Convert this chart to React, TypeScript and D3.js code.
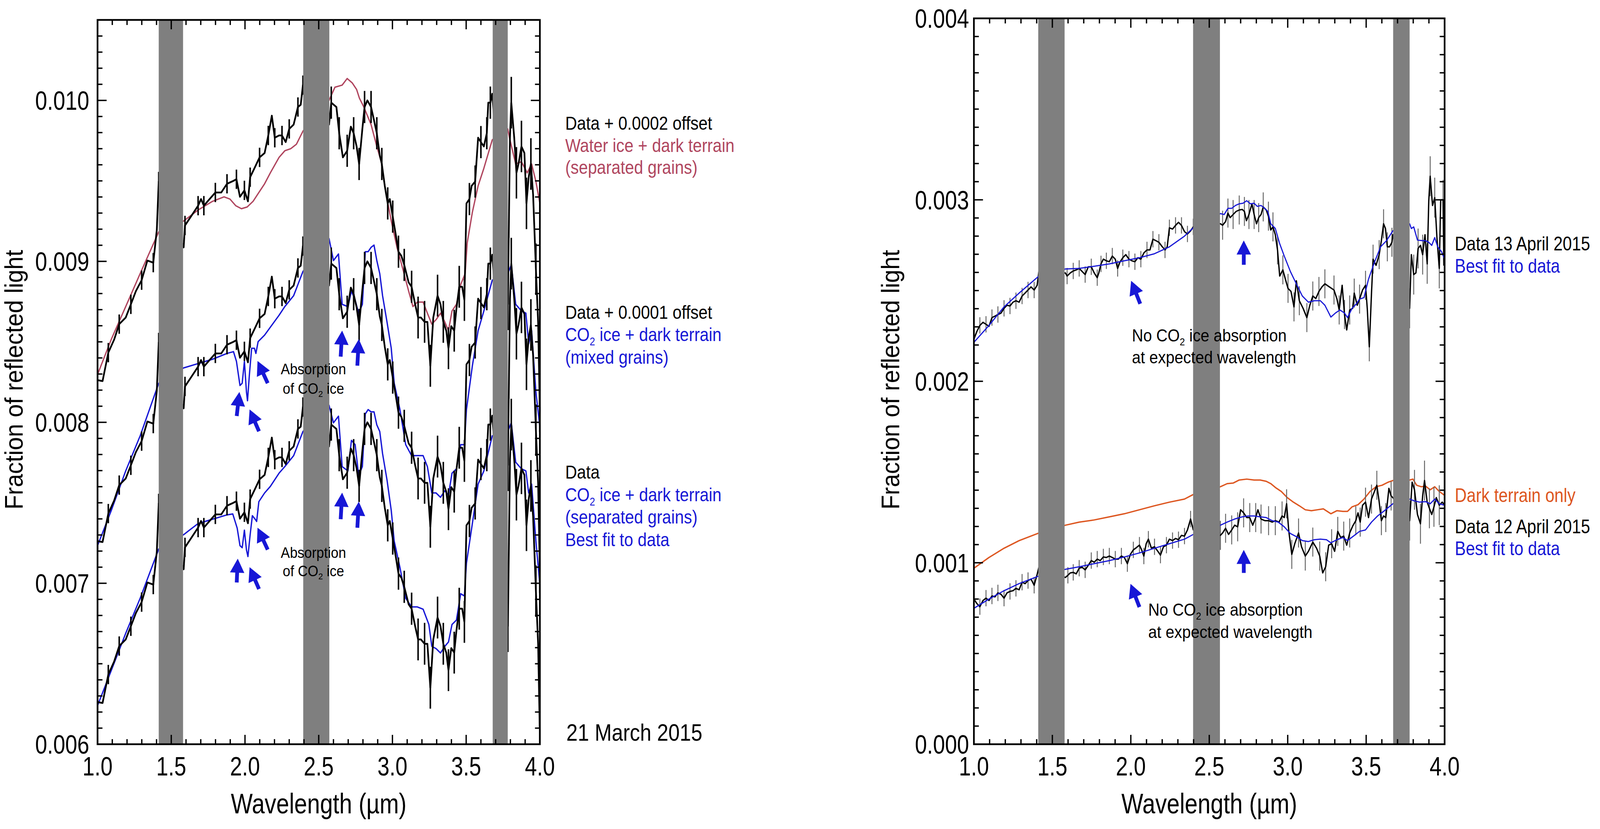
import React from "react";
import * as d3 from "d3";

type Pt = [number, number];

const FONT = "'Liberation Sans', Arial, sans-serif";

// wavelength ranges masked by grey bands (µm)
const leftBands: Pt[] = [[1.415, 1.58], [2.395, 2.572], [3.68, 3.782]];
const rightBands: Pt[] = [[1.41, 1.578], [2.397, 2.568], [3.672, 3.777]];

const xTicks = [1.0, 1.5, 2.0, 2.5, 3.0, 3.5, 4.0];
const leftYTicks = [0.006, 0.007, 0.008, 0.009, 0.01];
const rightYTicks = [0.0, 0.001, 0.002, 0.003, 0.004];

// 21 March 2015 spectrum (bottom curve), plotted again with offsets
const march21Data: Pt[] = [
  [1.0, 0.006262], [1.034, 0.006256], [1.073, 0.006433], [1.113, 0.006515], [1.147, 0.00661], [1.191, 0.006651],
  [1.226, 0.006733], [1.26, 0.006815], [1.299, 0.006883], [1.338, 0.007005], [1.378, 0.006992], [1.402, 0.007196], [1.415, 0.007496],
  [1.584, 0.007087], [1.593, 0.007223], [1.633, 0.007278], [1.682, 0.007346], [1.702, 0.007387], [1.721, 0.007346],
  [1.76, 0.007387], [1.799, 0.007428], [1.839, 0.007428], [1.878, 0.007482], [1.912, 0.007496], [1.942, 0.00751],
  [1.966, 0.007401], [1.996, 0.007441], [2.02, 0.007373], [2.035, 0.007523], [2.064, 0.007578], [2.099, 0.007646],
  [2.133, 0.007673], [2.158, 0.007782], [2.182, 0.007905], [2.202, 0.007768], [2.231, 0.007782], [2.251, 0.007782],
  [2.276, 0.007741], [2.3, 0.007823], [2.33, 0.00785], [2.359, 0.007959], [2.378, 0.007973], [2.393, 0.008095],
  [2.57, 0.00785], [2.585, 0.007986], [2.62, 0.007959], [2.639, 0.007796], [2.664, 0.007646], [2.693, 0.007687],
  [2.718, 0.007837], [2.737, 0.007796], [2.757, 0.007714], [2.774, 0.007605], [2.796, 0.007823], [2.811, 0.007959],
  [2.83, 0.008], [2.855, 0.007959], [2.875, 0.007877], [2.894, 0.007796], [2.914, 0.007659], [2.928, 0.007605],
  [2.948, 0.007469], [2.968, 0.00736], [2.982, 0.007387], [3.002, 0.007278], [3.022, 0.007169], [3.041, 0.00706],
  [3.061, 0.007033], [3.08, 0.006978], [3.11, 0.006869], [3.13, 0.006842], [3.154, 0.006733], [3.174, 0.006651],
  [3.193, 0.006651], [3.218, 0.006624], [3.237, 0.006624], [3.257, 0.006351], [3.277, 0.006651], [3.306, 0.006787],
  [3.326, 0.006733], [3.345, 0.006624], [3.365, 0.006569], [3.38, 0.00646], [3.399, 0.006597], [3.419, 0.006569],
  [3.434, 0.006706], [3.453, 0.006842], [3.473, 0.006842], [3.488, 0.00676], [3.502, 0.00736], [3.522, 0.007387],
  [3.537, 0.007469], [3.561, 0.007496], [3.581, 0.007768], [3.6, 0.007741], [3.62, 0.007714], [3.64, 0.007796],
  [3.65, 0.007986], [3.664, 0.007986], [3.677, 0.008041],
  [3.783, 0.006733], [3.797, 0.007768], [3.806, 0.007986], [3.826, 0.007768], [3.841, 0.00755], [3.855, 0.007605],
  [3.875, 0.007714], [3.895, 0.007673], [3.909, 0.00736], [3.924, 0.007523], [3.939, 0.007605], [3.954, 0.007414],
  [3.973, 0.006951], [3.988, 0.006624], [3.999, 0.0061],
];
const march21Offsets = [0, 0.001, 0.002];
// error size per wavelength range [from, err]
const march21Err: Pt[] = [[1.0, 0.00006], [2.5, 0.0001], [3.15, 0.00013], [3.5, 0.0001], [3.75, 0.00016]];

const waterIceFit: Pt[] = [
  [1.0, 0.008297], [1.093, 0.008515], [1.191, 0.008719], [1.289, 0.008924], [1.415, 0.009183],
  [1.584, 0.009251], [1.682, 0.009319], [1.78, 0.009373], [1.858, 0.009401], [1.898, 0.009387], [1.937, 0.009346],
  [1.976, 0.009327], [2.015, 0.009338], [2.055, 0.009373], [2.094, 0.009428], [2.133, 0.009482], [2.172, 0.00955],
  [2.231, 0.009646], [2.27, 0.009687], [2.31, 0.0097], [2.349, 0.009728], [2.393, 0.009809],
  [2.57, 0.01], [2.61, 0.010082], [2.659, 0.010095], [2.693, 0.010136], [2.727, 0.010109], [2.757, 0.010068],
  [2.776, 0.010014], [2.806, 0.009959], [2.855, 0.00985], [2.894, 0.009714], [2.924, 0.009619], [2.953, 0.009441],
  [2.992, 0.009251], [3.031, 0.009087], [3.071, 0.008951], [3.11, 0.008815], [3.139, 0.008719], [3.169, 0.008747],
  [3.208, 0.008747], [3.237, 0.008678], [3.267, 0.00861], [3.296, 0.008638], [3.326, 0.008678], [3.355, 0.008624],
  [3.38, 0.008569], [3.404, 0.008692], [3.434, 0.008733], [3.463, 0.008856], [3.493, 0.008924], [3.507, 0.009114],
  [3.542, 0.009305], [3.581, 0.009469], [3.62, 0.009578], [3.677, 0.009755],
  [3.782, 0.009823], [3.797, 0.009755], [3.836, 0.009605], [3.875, 0.009619], [3.914, 0.00955], [3.944, 0.009605],
  [3.973, 0.009496], [4.0, 0.00936],
];

const co2MixedFit: Pt[] = [
  [1.0, 0.007234], [1.093, 0.007452], [1.191, 0.007698], [1.289, 0.007916], [1.415, 0.008243],
  [1.584, 0.008338], [1.682, 0.008365], [1.78, 0.008392], [1.878, 0.008428], [1.922, 0.008439], [1.942, 0.008379],
  [1.966, 0.008229], [1.981, 0.008243], [1.996, 0.008379], [2.01, 0.008188], [2.017, 0.008134], [2.03, 0.008297],
  [2.045, 0.00846], [2.064, 0.00846], [2.074, 0.008428], [2.089, 0.008501], [2.133, 0.008542], [2.172, 0.008591],
  [2.231, 0.008665], [2.27, 0.008719], [2.33, 0.008787], [2.393, 0.008937],
  [2.57, 0.009142], [2.6, 0.009005], [2.634, 0.009046], [2.659, 0.008733], [2.698, 0.008719], [2.722, 0.008815],
  [2.747, 0.00876], [2.771, 0.008678], [2.796, 0.008733], [2.816, 0.00906], [2.835, 0.00906], [2.855, 0.009087],
  [2.875, 0.009101], [2.894, 0.009005], [2.914, 0.008924], [2.933, 0.008787], [2.963, 0.008624], [2.992, 0.00846],
  [3.012, 0.008243], [3.051, 0.008079], [3.09, 0.007861], [3.13, 0.007793], [3.169, 0.007793], [3.208, 0.007793],
  [3.237, 0.007725], [3.267, 0.007561], [3.296, 0.007561], [3.326, 0.007534], [3.355, 0.007575], [3.38, 0.007548],
  [3.404, 0.007684], [3.434, 0.007711], [3.463, 0.007861], [3.488, 0.007861], [3.502, 0.008079], [3.542, 0.008351],
  [3.581, 0.008569], [3.62, 0.008692], [3.677, 0.008883],
  [3.782, 0.008924], [3.806, 0.008978], [3.836, 0.008733], [3.875, 0.008692], [3.905, 0.008678], [3.924, 0.008488],
  [3.944, 0.008569], [3.973, 0.008188], [4.0, 0.00797],
];

const co2SeparatedFit: Pt[] = [
  [1.0, 0.00624], [1.093, 0.006458], [1.191, 0.006689], [1.289, 0.006907], [1.415, 0.007213],
  [1.584, 0.007302], [1.623, 0.00733], [1.682, 0.007371], [1.78, 0.007398], [1.878, 0.007425], [1.917, 0.007431],
  [1.947, 0.007343], [1.966, 0.007234], [1.981, 0.007221], [1.996, 0.00733], [2.01, 0.007207], [2.02, 0.007166],
  [2.035, 0.007302], [2.05, 0.00742], [2.069, 0.007398], [2.079, 0.007384], [2.094, 0.007507], [2.133, 0.007561],
  [2.172, 0.007602], [2.231, 0.007684], [2.27, 0.007725], [2.33, 0.007793], [2.393, 0.007943],
  [2.57, 0.008106], [2.6, 0.007997], [2.634, 0.008038], [2.659, 0.007725], [2.698, 0.007698], [2.722, 0.007888],
  [2.747, 0.007861], [2.771, 0.00767], [2.796, 0.007725], [2.816, 0.008052], [2.835, 0.008079], [2.855, 0.008065],
  [2.875, 0.008065], [2.894, 0.007984], [2.914, 0.007943], [2.933, 0.007806], [2.963, 0.007643], [2.992, 0.007452],
  [3.012, 0.007262], [3.051, 0.007098], [3.09, 0.006907], [3.13, 0.006853], [3.169, 0.006853], [3.208, 0.006839],
  [3.247, 0.006744], [3.267, 0.006608], [3.296, 0.006594], [3.326, 0.006567], [3.355, 0.006608], [3.38, 0.006635],
  [3.404, 0.006744], [3.434, 0.006771], [3.463, 0.006935], [3.488, 0.006921], [3.502, 0.007125], [3.542, 0.007371],
  [3.581, 0.007616], [3.62, 0.007698], [3.677, 0.007916],
  [3.782, 0.007943], [3.806, 0.007997], [3.836, 0.007752], [3.875, 0.007711], [3.905, 0.007698], [3.924, 0.007561],
  [3.944, 0.007616], [3.973, 0.007262], [4.0, 0.00699],
];

const april13Data: Pt[] = [
  [1.0, 0.002232], [1.019, 0.002275], [1.038, 0.002308], [1.058, 0.002325], [1.077, 0.002314], [1.096, 0.002303],
  [1.115, 0.002351], [1.134, 0.002359], [1.153, 0.002368], [1.173, 0.002376], [1.192, 0.002402], [1.211, 0.002419],
  [1.23, 0.002415], [1.249, 0.002436], [1.268, 0.002444], [1.288, 0.002436], [1.307, 0.00247], [1.326, 0.002486],
  [1.345, 0.002503], [1.364, 0.00252], [1.384, 0.002503], [1.403, 0.002529], [1.414, 0.002605],
  [1.583, 0.002597], [1.594, 0.00258], [1.614, 0.002597], [1.633, 0.002608], [1.652, 0.002614], [1.671, 0.002622],
  [1.69, 0.002605], [1.709, 0.002588], [1.729, 0.002631], [1.748, 0.002631], [1.767, 0.002597], [1.786, 0.002571],
  [1.796, 0.002597], [1.81, 0.002647], [1.825, 0.002673], [1.844, 0.002664], [1.863, 0.002659], [1.882, 0.00269],
  [1.901, 0.002673], [1.916, 0.002622], [1.93, 0.002656], [1.949, 0.002681], [1.968, 0.002698], [1.988, 0.002673],
  [2.007, 0.002664], [2.026, 0.002659], [2.045, 0.002681], [2.064, 0.002673], [2.083, 0.002707], [2.103, 0.002724],
  [2.122, 0.002724], [2.141, 0.002783], [2.16, 0.002775], [2.179, 0.002766], [2.198, 0.002744], [2.218, 0.002724],
  [2.232, 0.002741], [2.246, 0.002846], [2.266, 0.002839], [2.285, 0.002859], [2.304, 0.002876], [2.323, 0.002859],
  [2.342, 0.002825], [2.361, 0.002812], [2.381, 0.002829], [2.398, 0.002851],
  [2.571, 0.002868], [2.585, 0.00286], [2.604, 0.00288], [2.619, 0.002927], [2.633, 0.002902], [2.652, 0.002919],
  [2.671, 0.002936], [2.691, 0.002944], [2.71, 0.002947], [2.724, 0.002936], [2.737, 0.002885], [2.753, 0.002919],
  [2.772, 0.002978], [2.786, 0.002919], [2.801, 0.002868], [2.815, 0.002902], [2.83, 0.002919], [2.844, 0.002961],
  [2.863, 0.002944], [2.877, 0.00291], [2.892, 0.002834], [2.906, 0.002851], [2.921, 0.002808], [2.935, 0.002724],
  [2.949, 0.00258], [2.969, 0.002614], [2.988, 0.002554], [3.002, 0.002512], [3.021, 0.002495], [3.04, 0.00241],
  [3.055, 0.002554], [3.074, 0.002444], [3.098, 0.002402], [3.122, 0.002351], [3.141, 0.002419], [3.16, 0.00247],
  [3.179, 0.002456], [3.199, 0.002495], [3.218, 0.00252], [3.237, 0.002537], [3.266, 0.00252], [3.295, 0.002503],
  [3.314, 0.002453], [3.328, 0.002393], [3.347, 0.002529], [3.362, 0.002368], [3.376, 0.002283], [3.395, 0.002393],
  [3.414, 0.002402], [3.424, 0.002486], [3.443, 0.002419], [3.458, 0.002453], [3.477, 0.002503], [3.496, 0.002529],
  [3.507, 0.002402], [3.52, 0.00219], [3.534, 0.002486], [3.544, 0.002673], [3.563, 0.002639], [3.583, 0.002698],
  [3.597, 0.002775], [3.611, 0.002868], [3.623, 0.002842], [3.635, 0.002741], [3.649, 0.002741], [3.664, 0.002766],
  [3.67, 0.002808],
  [3.777, 0.002402], [3.788, 0.002698], [3.803, 0.002588], [3.817, 0.002597], [3.831, 0.002732], [3.846, 0.002749],
  [3.86, 0.002698], [3.875, 0.002808], [3.889, 0.002647], [3.899, 0.002995], [3.908, 0.00313], [3.923, 0.002969],
  [3.937, 0.003012], [3.951, 0.002792], [3.966, 0.002622], [3.975, 0.003], [3.99, 0.003], [3.995, 0.00264],
  [4.0, 0.00272],
];

const april13Fit: Pt[] = [
  [1.0, 0.002215], [1.096, 0.002308], [1.192, 0.00241], [1.288, 0.002486], [1.414, 0.00258],
  [1.583, 0.002619], [1.671, 0.002622], [1.767, 0.002634], [1.863, 0.002647], [1.959, 0.002664], [2.055, 0.002681],
  [2.151, 0.002703], [2.246, 0.002741], [2.342, 0.0028], [2.398, 0.002846],
  [2.571, 0.002924], [2.595, 0.002919], [2.619, 0.002953], [2.643, 0.002953], [2.667, 0.002969], [2.691, 0.002978],
  [2.715, 0.002981], [2.739, 0.002995], [2.762, 0.002978], [2.786, 0.002981], [2.806, 0.002964], [2.83, 0.002969],
  [2.854, 0.002953], [2.873, 0.002936], [2.892, 0.002868], [2.921, 0.002842], [2.949, 0.002758], [2.978, 0.00269],
  [3.017, 0.002605], [3.055, 0.002537], [3.093, 0.00247], [3.132, 0.002436], [3.17, 0.002444], [3.208, 0.002444],
  [3.237, 0.002419], [3.275, 0.002354], [3.304, 0.002376], [3.333, 0.002393], [3.362, 0.002376], [3.381, 0.002351],
  [3.41, 0.002402], [3.438, 0.002427], [3.458, 0.002453], [3.486, 0.002461], [3.515, 0.002563], [3.553, 0.002656],
  [3.592, 0.002741], [3.63, 0.002775], [3.67, 0.002829],
  [3.777, 0.002868], [3.788, 0.002842], [3.803, 0.002851], [3.827, 0.002778], [3.86, 0.002775], [3.879, 0.002775],
  [3.899, 0.002766], [3.918, 0.002749], [3.937, 0.002792], [3.956, 0.002741], [3.98, 0.002715], [4.0, 0.002673],
];

const darkTerrainOnly: Pt[] = [
  [1.0, 0.00097], [1.096, 0.001029], [1.192, 0.00108], [1.288, 0.001122], [1.414, 0.001164],
  [1.583, 0.001207], [1.671, 0.001224], [1.767, 0.001236], [1.863, 0.001253], [1.959, 0.00127], [2.055, 0.001292],
  [2.151, 0.001314], [2.246, 0.001334], [2.342, 0.001351], [2.398, 0.001376],
  [2.571, 0.001419], [2.614, 0.001436], [2.652, 0.001439], [2.691, 0.001456], [2.739, 0.001461], [2.786, 0.001456],
  [2.825, 0.001456], [2.863, 0.001449], [2.892, 0.001436], [2.921, 0.001415], [2.959, 0.001393], [2.997, 0.001359],
  [3.036, 0.001334], [3.074, 0.001314], [3.112, 0.001292], [3.151, 0.001287], [3.189, 0.001292], [3.227, 0.001297],
  [3.275, 0.00127], [3.314, 0.001287], [3.352, 0.001283], [3.381, 0.001283], [3.41, 0.001308], [3.448, 0.00132],
  [3.486, 0.001351], [3.525, 0.001393], [3.563, 0.001419], [3.601, 0.001427], [3.64, 0.001444], [3.67, 0.001453],
  [3.777, 0.001456], [3.798, 0.001461], [3.822, 0.001427], [3.851, 0.001419], [3.879, 0.001422], [3.908, 0.001402],
  [3.937, 0.001419], [3.966, 0.001393], [4.0, 0.001371],
];

const april12Data: Pt[] = [
  [1.0, 0.0008], [1.019, 0.000775], [1.038, 0.000758], [1.058, 0.000792], [1.077, 0.000805], [1.096, 0.000792],
  [1.115, 0.000817], [1.134, 0.000812], [1.153, 0.000834], [1.173, 0.000826], [1.192, 0.000805], [1.211, 0.000834],
  [1.23, 0.000842], [1.249, 0.000846], [1.268, 0.000859], [1.288, 0.000851], [1.307, 0.000893], [1.326, 0.000885],
  [1.345, 0.000902], [1.364, 0.00091], [1.384, 0.000876], [1.403, 0.000936], [1.414, 0.000975],
  [1.583, 0.000919], [1.599, 0.000931], [1.614, 0.000944], [1.633, 0.000947], [1.652, 0.000939], [1.671, 0.00097],
  [1.69, 0.000975], [1.709, 0.000961], [1.729, 0.000986], [1.748, 0.001012], [1.767, 0.001003], [1.786, 0.00102],
  [1.805, 0.001012], [1.825, 0.001032], [1.844, 0.001029], [1.863, 0.001037], [1.882, 0.001029], [1.901, 0.00102],
  [1.92, 0.00102], [1.94, 0.001037], [1.959, 0.001029], [1.978, 0.000995], [1.997, 0.001046], [2.016, 0.001071],
  [2.035, 0.001083], [2.055, 0.001097], [2.069, 0.001071], [2.083, 0.001037], [2.098, 0.001105], [2.112, 0.00113],
  [2.131, 0.001081], [2.151, 0.001088], [2.17, 0.001066], [2.189, 0.001042], [2.208, 0.001088], [2.227, 0.001097],
  [2.246, 0.00113], [2.266, 0.001122], [2.285, 0.001134], [2.304, 0.001127], [2.323, 0.001151], [2.342, 0.001147],
  [2.361, 0.001181], [2.381, 0.001241], [2.398, 0.001181],
  [2.571, 0.001151], [2.585, 0.001164], [2.604, 0.00119], [2.623, 0.001156], [2.643, 0.001181], [2.662, 0.001207],
  [2.681, 0.001198], [2.7, 0.001292], [2.719, 0.001275], [2.739, 0.001249], [2.758, 0.001249], [2.777, 0.001207],
  [2.796, 0.001249], [2.81, 0.001292], [2.83, 0.001241], [2.854, 0.001232], [2.878, 0.001232], [2.901, 0.001224],
  [2.921, 0.001232], [2.945, 0.001224], [2.964, 0.001258], [2.978, 0.001249], [2.993, 0.001325], [3.007, 0.001173],
  [3.026, 0.001046], [3.045, 0.001105], [3.069, 0.001164], [3.088, 0.001088], [3.112, 0.001037], [3.132, 0.001063],
  [3.16, 0.001114], [3.184, 0.00108], [3.204, 0.001037], [3.223, 0.000944], [3.242, 0.000978], [3.261, 0.001097],
  [3.28, 0.001105], [3.299, 0.001063], [3.319, 0.001173], [3.338, 0.001139], [3.357, 0.001147], [3.376, 0.001097],
  [3.395, 0.001164], [3.414, 0.001202], [3.434, 0.001232], [3.448, 0.001275], [3.462, 0.001224], [3.477, 0.001317],
  [3.496, 0.001334], [3.515, 0.001249], [3.534, 0.001351], [3.553, 0.001393], [3.568, 0.001427], [3.582, 0.001342],
  [3.597, 0.001232], [3.611, 0.001258], [3.625, 0.001249], [3.645, 0.00141], [3.659, 0.001368], [3.67, 0.001359],
  [3.777, 0.001232], [3.793, 0.001444], [3.808, 0.001402], [3.827, 0.001266], [3.846, 0.001215], [3.86, 0.001368],
  [3.872, 0.001453], [3.889, 0.001334], [3.903, 0.0013], [3.918, 0.001266], [3.932, 0.001308], [3.947, 0.001359],
  [3.966, 0.001317], [3.985, 0.001334], [4.0, 0.001317],
];

const april12Fit: Pt[] = [
  [1.0, 0.000749], [1.096, 0.0008], [1.192, 0.000846], [1.288, 0.000885], [1.414, 0.000927],
  [1.583, 0.000964], [1.671, 0.000978], [1.767, 0.000995], [1.863, 0.001012], [1.959, 0.001032], [2.055, 0.001054],
  [2.151, 0.00108], [2.246, 0.001105], [2.342, 0.00113], [2.398, 0.001156],
  [2.571, 0.001207], [2.614, 0.001224], [2.662, 0.001241], [2.71, 0.001253], [2.748, 0.001258], [2.786, 0.001258],
  [2.825, 0.001253], [2.863, 0.001249], [2.901, 0.001232], [2.94, 0.001224], [2.978, 0.001198], [3.017, 0.001161],
  [3.055, 0.001144], [3.093, 0.001122], [3.132, 0.001117], [3.17, 0.001127], [3.208, 0.00113], [3.247, 0.001127],
  [3.275, 0.00111], [3.314, 0.001127], [3.352, 0.001139], [3.381, 0.001122], [3.419, 0.001147], [3.458, 0.001173],
  [3.496, 0.001181], [3.534, 0.001224], [3.573, 0.001258], [3.611, 0.001283], [3.67, 0.001325],
  [3.777, 0.001351], [3.803, 0.001342], [3.841, 0.001334], [3.879, 0.001337], [3.908, 0.001325], [3.937, 0.001351],
  [3.966, 0.001325], [4.0, 0.001317],
];
const aprilErr: Pt[] = [[1.0, 0.000045], [2.5, 0.00008], [3.75, 0.00011]];

// annotation arrows [wTail, vTail, wHead, vHead]
const leftArrows = [
  [1.944, 0.008039, 1.962, 0.008189], [2.095, 0.007944, 2.031, 0.00808], [2.154, 0.008243, 2.085, 0.008381],
  [2.649, 0.008408, 2.659, 0.00857], [2.762, 0.008352, 2.772, 0.008517],
  [1.944, 0.007005, 1.951, 0.007153], [2.095, 0.006964, 2.031, 0.0071], [2.154, 0.007209, 2.085, 0.007345],
  [2.649, 0.007398, 2.659, 0.007563], [2.762, 0.007345, 2.772, 0.007507],
];
const rightArrows = [
  [2.06, 0.002427, 2.002, 0.002554], [2.72, 0.002642, 2.72, 0.002776],
  [2.055, 0.000756, 1.998, 0.000884], [2.72, 0.000944, 2.72, 0.001071],
];

const BLUE = "#1717d6";
const ROSE = "#b0465f";
const ORANGE = "#dd5620";

interface Curve {
  pts: Pt[];
  color: string;
  width: number;
  offset?: number;
  err?: Pt[];
  errColor?: string;
  errWidth?: number;
}

function errAt(table: Pt[], w: number) {
  let e = table[0][1];
  for (const [from, v] of table) if (w >= from) e = v;
  return e;
}

// text squeezed horizontally to mimic the narrow original typeface
function T(props: {
  x: number; y: number; size: number; sx?: number; fill?: string; anchor?: string; rotate?: number; dy?: string;
  children: React.ReactNode;
}) {
  const { x, y, size, sx = 0.88, fill = "#000", anchor = "start", rotate, dy, children } = props;
  return (
    <text
      transform={`translate(${x},${y})${rotate ? ` rotate(${rotate})` : ""} scale(${sx},1)`}
      fontFamily={FONT}
      fontSize={size}
      fill={fill}
      textAnchor={anchor}
      dy={dy}
    >
      {children}
    </text>
  );
}

function Sub({ fs, children }: { fs: number; children: string }) {
  return (
    <>
      <tspan dy={fs * 0.22} fontSize={fs * 0.6}>{children}</tspan>
      <tspan dy={-fs * 0.22}>{" "}</tspan>
    </>
  );
}

function Arrow({ x1, y1, x2, y2 }: { x1: number; y1: number; x2: number; y2: number }) {
  const a = Math.atan2(y2 - y1, x2 - x1);
  const hl = 36, hw = 19;
  const bx = x2 - hl * Math.cos(a), by = y2 - hl * Math.sin(a);
  const px = -Math.sin(a) * hw, py = Math.cos(a) * hw;
  return (
    <g>
      <line x1={x1} y1={y1} x2={bx + 2 * Math.cos(a)} y2={by + 2 * Math.sin(a)} stroke={BLUE} strokeWidth={10} />
      <polygon points={`${x2},${y2} ${bx + px},${by + py} ${bx - px},${by - py}`} fill={BLUE} />
    </g>
  );
}

interface PanelProps {
  id: string;
  x0: number; x1: number; yTop: number; yBottom: number;
  yDomain: [number, number];
  yTicks: number[];
  bands: Pt[];
  curves: Curve[];
  labelGap: number;
  titleX: number;
  arrows: number[][];
}

function Panel(p: PanelProps) {
  const x = d3.scaleLinear().domain([1, 4]).range([p.x0, p.x1]);
  const y = d3.scaleLinear().domain(p.yDomain).range([p.yBottom, p.yTop]);
  const fmtY = d3.format(".3f");
  const fmtX = d3.format(".1f");
  const nMinorY = Math.round((p.yDomain[1] - p.yDomain[0]) / 0.0001);
  const minorY = d3.range(nMinorY + 1).map((i) => p.yDomain[0] + i * 0.0001);
  const minorX = d3.range(31).map((i) => 1 + i * 0.1);
  const isMajorX = (v: number) => Math.abs(v * 2 - Math.round(v * 2)) < 1e-6;
  const isMajorY = (v: number) => p.yTicks.some((t) => Math.abs(t - v) < 1e-7);
  const clip = `clip-${p.id}`;

  return (
    <g>
      <defs>
        <clipPath id={clip}>
          <rect x={p.x0} y={p.yTop} width={p.x1 - p.x0} height={p.yBottom - p.yTop} />
        </clipPath>
      </defs>
      <g clipPath={`url(#${clip})`}>
        {p.curves.map((c, ci) => {
          const off = c.offset ?? 0;
          const line = d3.line<Pt>().x((d) => x(d[0])).y((d) => y(d[1] + off));
          return (
            <g key={ci}>
              {c.err &&
                c.pts.map((d, i) =>
                  i % 2 === 0 ? (
                    <line
                      key={i}
                      x1={x(d[0])}
                      x2={x(d[0])}
                      y1={y(d[1] + off - errAt(c.err!, d[0]))}
                      y2={y(d[1] + off + errAt(c.err!, d[0]))}
                      stroke={c.errColor}
                      strokeWidth={c.errWidth}
                    />
                  ) : null
                )}
              <path d={line(c.pts) ?? ""} fill="none" stroke={c.color} strokeWidth={c.width} strokeLinejoin="round" />
            </g>
          );
        })}
        {p.bands.map(([a, b], i) => (
          <rect key={i} x={x(a)} y={p.yTop} width={x(b) - x(a)} height={p.yBottom - p.yTop} fill="#7f7f7f" />
        ))}
      </g>
      {p.arrows.map((a, i) => (
        <Arrow key={i} x1={x(a[0])} y1={y(a[1])} x2={x(a[2])} y2={y(a[3])} />
      ))}
      {/* ticks on all four sides */}
      {minorX.map((v, i) => {
        const len = isMajorX(v) ? 24 : 13;
        return (
          <g key={`x${i}`} stroke="#000" strokeWidth={3.5}>
            <line x1={x(v)} x2={x(v)} y1={p.yBottom} y2={p.yBottom - len} />
            <line x1={x(v)} x2={x(v)} y1={p.yTop} y2={p.yTop + len} />
          </g>
        );
      })}
      {minorY.map((v, i) => {
        const len = isMajorY(v) ? 24 : 13;
        return (
          <g key={`y${i}`} stroke="#000" strokeWidth={3.5}>
            <line x1={p.x0} x2={p.x0 + len} y1={y(v)} y2={y(v)} />
            <line x1={p.x1} x2={p.x1 - len} y1={y(v)} y2={y(v)} />
          </g>
        );
      })}
      <rect x={p.x0} y={p.yTop} width={p.x1 - p.x0} height={p.yBottom - p.yTop} fill="none" stroke="#000" strokeWidth={4.5} />
      {xTicks.map((v) => (
        <T key={v} x={x(v)} y={p.yBottom + 80} size={68} sx={0.84} anchor="middle">{fmtX(v)}</T>
      ))}
      {p.yTicks.map((v) => (
        <T key={v} x={p.x0 - p.labelGap} y={y(v)} dy="0.36em" size={68} sx={0.84} anchor="end">{fmtY(v)}</T>
      ))}
      <T x={(p.x0 + p.x1) / 2} y={2082} size={72} sx={0.85} anchor="middle">Wavelength (µm)</T>
      <T x={p.titleX} y={972} size={66} sx={0.92} anchor="middle" rotate={-90}>
        Fraction of reflected light
      </T>
    </g>
  );
}

export default function App() {
  const leftCurves: Curve[] = [
    { pts: waterIceFit, color: ROSE, width: 3.5 },
    { pts: co2MixedFit, color: BLUE, width: 3.5 },
    { pts: co2SeparatedFit, color: BLUE, width: 3.5 },
    ...march21Offsets.map((o) => ({
      pts: march21Data, color: "#000", width: 4.5, offset: o, err: march21Err, errColor: "#000", errWidth: 4,
    })),
  ];
  const rightCurves: Curve[] = [
    { pts: darkTerrainOnly, color: ORANGE, width: 3.5 },
    { pts: april13Data, color: "#000", width: 3.5, err: aprilErr, errColor: "#666", errWidth: 2.5 },
    { pts: april12Data, color: "#000", width: 3.5, err: aprilErr, errColor: "#666", errWidth: 2.5 },
    { pts: april13Fit, color: BLUE, width: 3 },
    { pts: april12Fit, color: BLUE, width: 3 },
  ];
  const lf = 49;
  const rf = 50;
  const af = 38;
  const nf = 44;
  return (
    <svg
      viewBox="0 0 4232 2122"
      preserveAspectRatio="none"
      style={{ position: "fixed", left: 0, top: 0, width: "100vw", height: "100vh", background: "#fff", display: "block" }}
    >
      <rect width={4232} height={2122} fill="#fff" />
      <Panel
        id="left" x0={258} x1={1428} yTop={51} yBottom={1905} yDomain={[0.006, 0.0105]}
        yTicks={leftYTicks} bands={leftBands} curves={leftCurves} labelGap={22} titleX={60} arrows={leftArrows}
      />
      <Panel
        id="right" x0={2576} x1={3821} yTop={47} yBottom={1905} yDomain={[0, 0.004]}
        yTicks={rightYTicks} bands={rightBands} curves={rightCurves} labelGap={13} titleX={2378} arrows={rightArrows}
      />

      <T x={1495} y={332} size={lf}>Data + 0.0002 offset</T>
      <T x={1495} y={389} size={lf} fill={ROSE}>Water ice + dark terrain</T>
      <T x={1495} y={445} size={lf} fill={ROSE}>(separated grains)</T>
      <T x={1495} y={816} size={lf}>Data + 0.0001 offset</T>
      <T x={1495} y={873} size={lf} fill={BLUE}>CO<Sub fs={lf}>2</Sub>ice + dark terrain</T>
      <T x={1495} y={931} size={lf} fill={BLUE}>(mixed grains)</T>
      <T x={1495} y={1225} size={lf}>Data</T>
      <T x={1495} y={1283} size={lf} fill={BLUE}>CO<Sub fs={lf}>2</Sub>ice + dark terrain</T>
      <T x={1495} y={1340} size={lf} fill={BLUE}>(separated grains)</T>
      <T x={1495} y={1398} size={lf} fill={BLUE}>Best fit to data</T>
      <T x={1498} y={1896} size={62} sx={0.87}>21 March 2015</T>

      <T x={829} y={958} size={af} sx={0.95} anchor="middle">Absorption</T>
      <T x={829} y={1008} size={af} sx={0.95} anchor="middle">of CO<Sub fs={af}>2</Sub>ice</T>
      <T x={829} y={1428} size={af} sx={0.95} anchor="middle">Absorption</T>
      <T x={829} y={1475} size={af} sx={0.95} anchor="middle">of CO<Sub fs={af}>2</Sub>ice</T>

      <T x={3848} y={641} size={rf} sx={0.87}>Data 13 April 2015</T>
      <T x={3848} y={698} size={rf} sx={0.87} fill={BLUE}>Best fit to data</T>
      <T x={3848} y={1285} size={rf} sx={0.87} fill={ORANGE}>Dark terrain only</T>
      <T x={3848} y={1365} size={rf} sx={0.87}>Data 12 April 2015</T>
      <T x={3848} y={1421} size={rf} sx={0.87} fill={BLUE}>Best fit to data</T>

      <T x={2994} y={874} size={nf} sx={0.94}>No CO<Sub fs={nf}>2</Sub>ice absorption</T>
      <T x={2994} y={930} size={nf} sx={0.94}>at expected wavelength</T>
      <T x={3037} y={1576} size={nf} sx={0.94}>No CO<Sub fs={nf}>2</Sub>ice absorption</T>
      <T x={3037} y={1633} size={nf} sx={0.94}>at expected wavelength</T>
    </svg>
  );
}
